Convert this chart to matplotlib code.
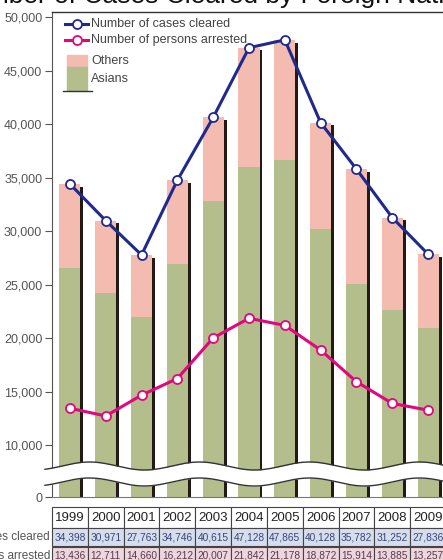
import numpy as np
import matplotlib
matplotlib.use("Agg")
import matplotlib.pyplot as plt
from matplotlib.patches import Rectangle
from matplotlib.lines import Line2D

plt.rcParams['font.family'] = ['Liberation Sans', 'DejaVu Sans']

# data
years = ["1999", "2000", "2001", "2002", "2003", "2004", "2005", "2006", "2007", "2008", "2009"]
cases_cleared = [34398, 30971, 27763, 34746, 40615, 47128, 47865, 40128, 35782, 31252, 27836]
persons_arrested = [13436, 12711, 14660, 16212, 20007, 21842, 21178, 18872, 15914, 13885, 13257]
asians = [26570, 24200, 22000, 26900, 32800, 36000, 36640, 30190, 25080, 22620, 20930]
others = [c - a for c, a in zip(cases_cleared, asians)]

W, H = 443, 560
fig = plt.figure(figsize=(W / 100, H / 100), dpi=100)


def fx(px):
    return px / W


def fy(py):
    return 1 - py / H


# broken axis: 0-10,000 squeezed to about half scale
SQ = 0.486


def fwd(v):
    v = np.asarray(v, dtype=float)
    return np.where(v >= 10000, v, 10000 - (10000 - v) * SQ)


def inv(u):
    u = np.asarray(u, dtype=float)
    return np.where(u >= 10000, u, 10000 - (10000 - u) / SQ)


ax = fig.add_axes([fx(52), fy(497), fx(394), 485 / H])
ax.set_yscale('function', functions=(fwd, inv))
ax.set_xlim(-0.5, 10.5)
ax.set_ylim(0, 50470)

x = np.arange(len(years))
bw = 0.59
pink = '#f4bcb0'
green = '#b4bd8c'
dark = '#231a15'

# shadow strip on the right of each bar
ax.bar(x + bw / 2 - 0.01, [c - 250 for c in cases_cleared], width=0.09,
       align='edge', color=dark, zorder=1)
ax.bar(x, asians, width=bw, color=green, zorder=2)
ax.bar(x, others, bottom=asians, width=bw, color=pink, zorder=2)

ax.plot(x, cases_cleared, color='#1f2a8c', lw=2.2, marker='o', ms=6.5,
        mfc='white', mec='#1f2a8c', mew=1.3, zorder=5)
ax.plot(x, persons_arrested, color='#e2077d', lw=2.2, marker='o', ms=6.5,
        mfc='white', mec='#e2077d', mew=1.3, zorder=5)

ax.set_yticks([0] + list(range(10000, 50001, 5000)))
ax.set_yticklabels(['0'] + ['{:,}'.format(v) for v in range(10000, 50001, 5000)])
ax.set_xticks([])
ax.tick_params(axis='y', direction='out', length=5, width=0.8, color='#555555',
               labelsize=9, labelcolor='#555555', pad=2)
ax.spines['right'].set_visible(False)
ax.spines['left'].set_color('#555555')
ax.spines['bottom'].set_color('#777777')
ax.spines['top'].set_color('#333333')
ax.spines['top'].set_linewidth(1.0)

# wavy break band
wx = np.linspace(-7, 400, 400)
wave = 4.0 * np.sin(2 * np.pi * (wx - 10) / 110)
yc = 23.0
band_top = (yc + 8 + wave) / 485
band_bot = (yc - 8 + wave) / 485
xa = wx / 394
ax.fill_between(xa, band_bot, band_top, transform=ax.transAxes, color='white',
                zorder=6, clip_on=False, lw=0)
ax.plot(xa, band_top, transform=ax.transAxes, color='#333333', lw=1.0,
        zorder=7, clip_on=False)
ax.plot(xa, band_bot, transform=ax.transAxes, color='#333333', lw=1.0,
        zorder=7, clip_on=False)

# legend
tc = '#444444'
for yy, col, lab in [(24, '#1f2a8c', 'Number of cases cleared'),
                     (40, '#e2077d', 'Number of persons arrested')]:
    fig.add_artist(Line2D([fx(65), fx(88)], [fy(yy), fy(yy)], color=col, lw=2.2))
    fig.add_artist(Line2D([fx(77)], [fy(yy)], marker='o', ms=6.5, mfc='white',
                          mec=col, mew=1.3))
    fig.text(fx(91), fy(yy), lab, fontsize=9, color=tc, va='center', ha='left')
fig.add_artist(Rectangle((fx(67), fy(67)), fx(20), 12 / H, color=pink,
                         transform=fig.transFigure))
fig.add_artist(Rectangle((fx(67), fy(90)), fx(20), 23 / H, color=green,
                         transform=fig.transFigure))
fig.add_artist(Line2D([fx(63), fx(92)], [fy(90.5), fy(90.5)], color='#333333', lw=1.0))
fig.text(fx(91), fy(61), 'Others', fontsize=9, color=tc, va='center', ha='left')
fig.text(fx(91), fy(79), 'Asians', fontsize=9, color=tc, va='center', ha='left')

# title, cropped by the top edge
fig.text(fx(230), fy(3), 'Number of Cases Cleared by Foreign Nationals',
         fontsize=19, color='#111111', ha='center', va='baseline')

# data table under the chart
tax = fig.add_axes([fx(52), 0, fx(394), 53 / H])
tax.set_xlim(-0.5, 10.5)
tax.set_ylim(53, 0)
tax.axis('off')
rows = [(0, 20.5, 'white', years, None, 9.5, '#222222'),
        (21, 18, '#d6ddee', ['{:,}'.format(v) for v in cases_cleared],
         'Number of cases cleared', 7.3, '#3a4470'),
        (39.5, 18, '#eed6dd', ['{:,}'.format(v) for v in persons_arrested],
         'Number of persons arrested', 7.3, '#5a3a48')]
for top, h, bg, vals, label, fs, col in rows:
    for i, v in enumerate(vals):
        tax.add_patch(Rectangle((i - 0.5, top), 1, h, facecolor=bg,
                                edgecolor='#444444', lw=0.8, clip_on=False))
        tax.text(i, top + h / 2 + 0.5, v, ha='center', va='center',
                 fontsize=fs, color=col, clip_on=False)
    if label:
        fig.text(fx(50), fy(507 + top + h / 2), label, ha='right', va='center',
                 fontsize=8.5, color='#555555')

fig.savefig('out.png', dpi=100)
